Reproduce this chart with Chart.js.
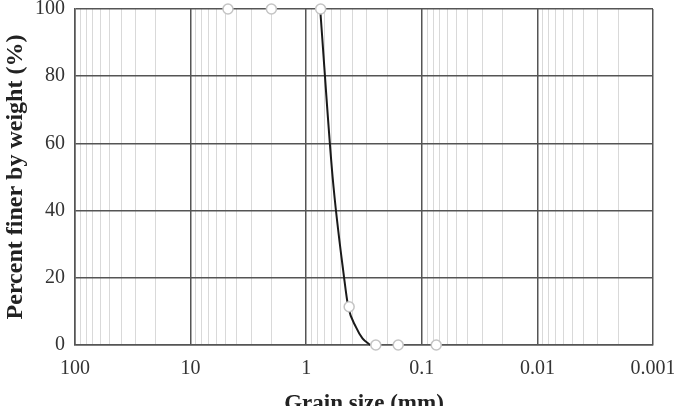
<!DOCTYPE html>
<html>
<head>
<meta charset="utf-8">
<script src="https://cdn.jsdelivr.net/npm/chart.js@4"></script>
<style>
  body { margin: 0; overflow: hidden; background: #fff; }
  #wrap { width: 674px; height: 418px; }
</style>
</head>
<body>
<div id="wrap"><canvas id="myChart" width="674" height="418"></canvas></div>
<script>
// sieve results (grain size in mm, percent finer)
var sieveSizes = [4.75, 2, 0.75, 0.425, 0.25, 0.16, 0.075]
var sievePassing = [100, 100, 100, 11.4, 0, 0, 0]

// gradation curve
var curveSizes = [0.757, 0.591, 0.47, 0.433, 0.372, 0.326, 0.279]
var curvePassing = [100, 50, 20, 11.4, 5.4, 2, 0]

var decades = [100, 10, 1, 0.1, 0.01, 0.001]
var decadeLabels = ["100", "10", "1", "0.1", "0.01", "0.001"]
var minorSteps = [2, 3, 4, 5, 6, 7, 8, 9]

function isMajor(v) {
  var l = Math.log10(v)
  return Math.abs(l - Math.round(l)) < 1e-6
}

function toPoints(xs, ys) {
  var res = []
  for (var i in xs) {
    res.push({ x: xs[i], y: ys[i] })
  }
  return res
}

var serif = "'Liberation Serif', 'DejaVu Serif', serif"

var ctx = document.getElementById("myChart")
var myChart = new Chart(ctx, {
  type: "scatter",
  data: {
    datasets: [{
      label: "sieve",
      data: toPoints(sieveSizes, sievePassing),
      pointRadius: 5,
      pointBackgroundColor: "#ffffff",
      pointBorderColor: "#c4c4c4",
      pointBorderWidth: 1.5,
      showLine: false,
      clip: false,
      order: 0
    }, {
      label: "curve",
      data: toPoints(curveSizes, curvePassing),
      showLine: true,
      borderColor: "#1a1a1a",
      borderWidth: 2,
      pointRadius: 0,
      cubicInterpolationMode: "monotone",
      fill: false,
      clip: false,
      order: 1
    }]
  },
  options: {
    responsive: false,
    animation: false,
    layout: { padding: { left: 1, right: 21, top: 0, bottom: 0 } },
    plugins: { legend: { display: false }, tooltip: { enabled: false } },
    scales: {
      x: {
        type: "logarithmic",
        reverse: true,
        min: 0.001,
        max: 100,
        afterBuildTicks: function(scale) {
          var t = []
          for (var i in decades) {
            t.push({ value: decades[i] })
            if (decades[i] < 100) {
              for (var j in minorSteps) t.push({ value: decades[i] * minorSteps[j] })
            }
          }
          scale.ticks = t
        },
        afterFit: function(scale) { scale.height = 73 },
        grid: {
          drawTicks: false,
          color: function(c) { return c.tick && isMajor(c.tick.value) ? "#555555" : "#d9d9d9" },
          lineWidth: function(c) { return c.tick && isMajor(c.tick.value) ? 1.5 : 1 }
        },
        border: { color: "#555555", width: 1.5 },
        ticks: {
          autoSkip: false,
          maxRotation: 0,
          padding: 12,
          color: "#333333",
          font: { family: serif, size: 20 },
          callback: function(v) {
            for (var i in decades) {
              if (Math.abs(v - decades[i]) < decades[i] * 1e-6) return decadeLabels[i]
            }
            return ""
          }
        },
        title: {
          display: true,
          text: "Grain size (mm)",
          color: "#222222",
          padding: 0,
          font: { family: serif, size: 23, weight: "bold" }
        }
      },
      y: {
        min: 0,
        max: 100,
        afterFit: function(scale) {
          scale.width = 74
          scale.paddingTop = 9
          scale.paddingBottom = 0
        },
        grid: { drawTicks: false, color: "#555555", lineWidth: 1.5 },
        border: { color: "#555555", width: 1.5 },
        ticks: {
          stepSize: 20,
          padding: 10,
          color: "#333333",
          font: { family: serif, size: 20 }
        },
        title: {
          display: true,
          text: "Percent finer by weight (%)",
          color: "#222222",
          padding: 0,
          font: { family: serif, size: 24, weight: "bold" }
        }
      }
    }
  }
})
</script>
</body>
</html>
